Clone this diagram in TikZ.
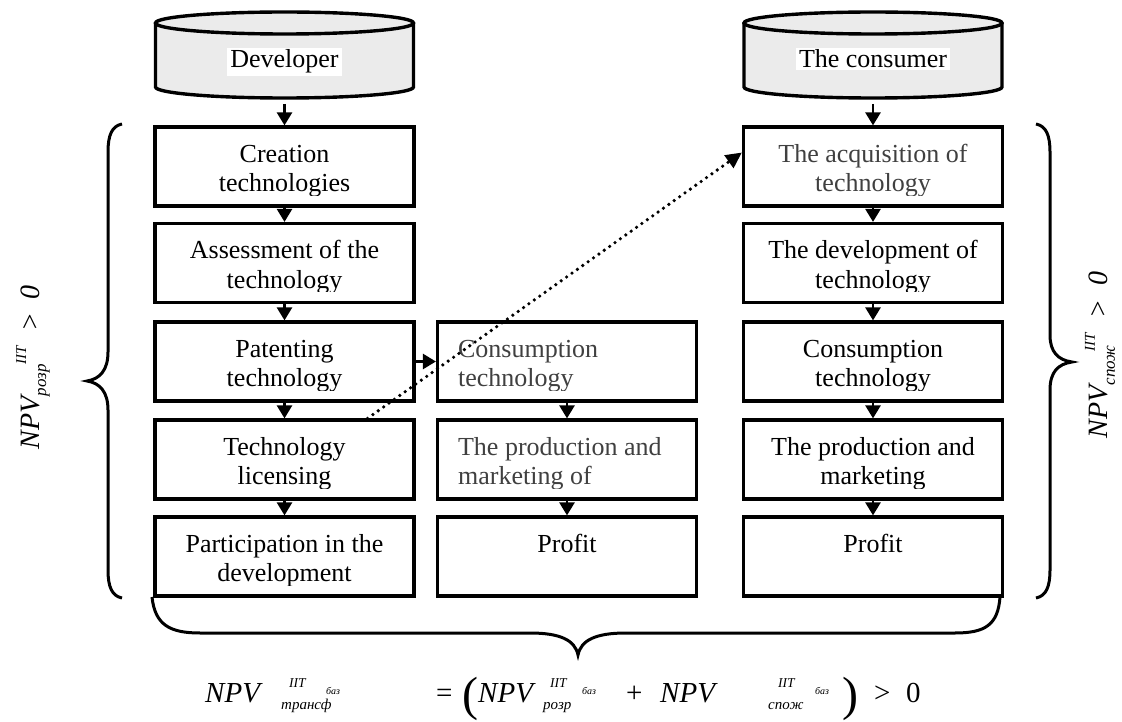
\documentclass[tikz,border=0pt]{standalone}
\usepackage{fontspec}
\setmainfont{Liberation Serif}
\usetikzlibrary{arrows.meta}

\tikzset{
  box/.style={draw, line width=3.2pt, minimum width=259pt, minimum height=79pt, inner sep=0pt},
  arr/.style={line width=2.6pt, -{Triangle[length=13pt,width=15pt]}},
  dotarr/.style={line width=3.6pt, line cap=round, dash pattern=on 0pt off 6.6pt, -{Triangle[length=16pt,width=15pt]}},
  bracestyle/.style={line width=3pt},
  cyl/.style={line width=3.4pt},
  cyllabel/.style={fill=white, inner xsep=3pt, inner ysep=2pt, font=\fontsize{26}{29}\selectfont, anchor=base},
  big/.style={inner sep=0pt, anchor=base west, font=\fontsize{29}{29}\selectfont\itshape},
  sup/.style={inner sep=0pt, anchor=base west, font=\fontsize{13.5}{14}\selectfont\itshape},
  sub/.style={inner sep=0pt, anchor=base west, font=\fontsize{15}{15}\selectfont\itshape},
  baz/.style={inner sep=0pt, anchor=base west, font=\fontsize{10}{10}\selectfont\itshape},
  op/.style={inner sep=0pt, anchor=base west, font=\fontsize{29}{29}\selectfont},
}

% centred box text, clipped like the original text frames
\newcommand{\bxc}[4]{%
  \node[box] (#1) at (#2) {};
  \begin{scope}
    \clip ([shift={(3pt,-3pt)}]#1.north west) rectangle ([shift={(-3pt,12.5pt)}]#1.south east);
    \node[anchor=base, inner sep=0pt, text=#3] (#1t) at ([yshift=-37pt]#1.north)
      {\vtop{\hsize=250pt\parindent=0pt\centering\fontsize{26}{29.5}\selectfont #4\par}};
  \end{scope}}
% left-aligned box text
\newcommand{\bxl}[4]{%
  \node[box] (#1) at (#2) {};
  \begin{scope}
    \clip ([shift={(3pt,-3pt)}]#1.north west) rectangle ([shift={(-3pt,12.5pt)}]#1.south east);
    \node[anchor=base west, inner sep=0pt, text=#3] (#1t) at ([shift={(22pt,-37pt)}]#1.north west)
      {\vtop{\hsize=232pt\parindent=0pt\raggedright\fontsize{26}{29.5}\selectfont #4\par}};
  \end{scope}}
% cylinder
\newcommand{\cylinder}[2]{%
  \fill[black!8] (#1-129,23) rectangle (#1+129,87);
  \fill[black!8] (#1,87) ellipse [x radius=129pt, y radius=11pt];
  \fill[black!8] (#1,23) ellipse [x radius=129pt, y radius=11pt];
  \draw[cyl] (#1,23) ellipse [x radius=129pt, y radius=11pt];
  \draw[cyl] (#1-129,23) -- (#1-129,87) arc[start angle=180, end angle=360, x radius=129pt, y radius=11pt] -- (#1+129,23);
}

\begin{document}
\begin{tikzpicture}[x=1pt, y=-1pt]
\useasboundingbox[fill=white] (0,0) rectangle (1122,722);

% cylinders
\cylinder{284.5}{}
\cylinder{873}{}
\node[cyllabel] (dev) at (284.5,68) {Developer};
\node[cyllabel] (cons) at (873,68) {The consumer};
\coordinate (devb) at (284.5,104);
\coordinate (consb) at (873,104);

% left column
\bxc{l1}{284.5,166.5}{black}{Creation\\technologies}
\bxc{l2}{284.5,263}{black}{Assessment of the\\technology}
\bxc{l3}{284.5,361.5}{black}{Patenting\\technology}
\bxc{l4}{284.5,459.5}{black}{Technology\\licensing}
\bxc{l5}{284.5,556.5}{black}{Participation in the\\development}

% middle column
\bxl{m1}{567,361.5}{black!75}{Consumption\\technology}
\bxl{m2}{567,459.5}{black!75}{The production and\\marketing of}
\bxc{m3}{567,556.5}{black}{Profit}

% right column
\bxc{r1}{873,166.5}{black!75}{The acquisition of\\technology}
\bxc{r2}{873,263}{black}{The development of\\technology}
\bxc{r3}{873,361.5}{black}{Consumption\\technology}
\bxc{r4}{873,459.5}{black}{The production and\\marketing}
\bxc{r5}{873,556.5}{black}{Profit}

% arrows
\draw[arr] (devb) -- (l1.north);
\draw[arr] (l1.south) -- (l2.north);
\draw[arr] (l2.south) -- (l3.north);
\draw[arr] (l3.south) -- (l4.north);
\draw[arr] (l4.south) -- (l5.north);
\draw[arr] (l3.east) -- (m1.west);
\draw[arr] (m1.south) -- (m2.north);
\draw[arr] (m2.south) -- (m3.north);
\draw[arr] (consb) -- (r1.north);
\draw[arr] (r1.south) -- (r2.north);
\draw[arr] (r2.south) -- (r3.north);
\draw[arr] (r3.south) -- (r4.north);
\draw[arr] (r4.south) -- (r5.north);

% dotted licence arrow
\coordinate (licstart) at ([xshift=83pt]l4.north);
\coordinate (acqend) at ([yshift=14pt]r1.west);
\draw[dotarr] (licstart) -- (acqend);

% braces
\draw[bracestyle] (122,124) .. controls (112,126) and (108,135) .. (108,152) -- (108,352)
  .. controls (108,370) and (100,379) .. (87,381) .. controls (100,383) and (108,392) .. (108,410)
  -- (108,570) .. controls (108,587) and (112,596) .. (122,598);
\draw[bracestyle] (1036,124) .. controls (1046,126) and (1050,135) .. (1050,152) -- (1050,335)
  .. controls (1050,352) and (1058,360) .. (1072,362) .. controls (1058,364) and (1050,372) .. (1050,390)
  -- (1050,570) .. controls (1050,587) and (1046,596) .. (1036,598);
\draw[bracestyle] (152,597) .. controls (155,625) and (170,633) .. (200,633) -- (530,633)
  .. controls (560,633) and (575,640) .. (578,655) .. controls (581,640) and (596,633) .. (626,633)
  -- (955,633) .. controls (985,633) and (998,625) .. (1000,597);

% vertical labels
\node[rotate=90, inner sep=0pt] (npvl) at (33,367)
  {\fontsize{28}{28}\selectfont\itshape NPV\raisebox{-7pt}{\fontsize{17}{17}\selectfont розр}\raisebox{13pt}{\fontsize{15}{15}\selectfont IIT}\ \ >\ \ 0};
\node[rotate=90, inner sep=0pt] (npvr) at (1100,355)
  {\fontsize{28}{28}\selectfont\itshape NPV\raisebox{-7pt}{\fontsize{17}{17}\selectfont спож}\raisebox{13pt}{\fontsize{15}{15}\selectfont\hspace{-6pt}IIT}\ \ >\ \ 0};

% formula
\node[big] (f1) at (205,702) {NPV};
\node[sup] (f2) at (289,687) {IIT};
\node[sub] (f3) at (281,709) {трансф};
\node[baz] (f4) at (326,694) {баз};
\node[op]  (f5) at (436,702) {=};
\node[op, font=\fontsize{48}{48}\selectfont] (f6) at (462,710) {(};
\node[big] (f7) at (478,702) {NPV};
\node[sup] (f8) at (550,687) {IIT};
\node[sub] (f9) at (543,709) {розр};
\node[baz] (f10) at (582,694) {баз};
\node[op]  (f11) at (626,702) {+};
\node[big] (f12) at (660,702) {NPV};
\node[sup] (f13) at (778,687) {IIT};
\node[sub] (f14) at (768,709) {спож};
\node[baz] (f15) at (815,694) {баз};
\node[op, font=\fontsize{48}{48}\selectfont] (f16) at (842,710) {)};
\node[op]  (f17) at (874,702) {>};
\node[op]  (f18) at (906,702) {0};
\end{tikzpicture}
\end{document}
